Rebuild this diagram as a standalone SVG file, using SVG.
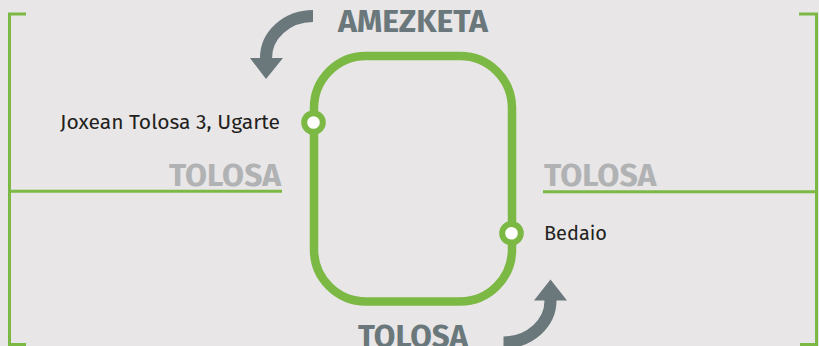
<svg xmlns="http://www.w3.org/2000/svg" width="819" height="346" viewBox="0 0 819 346">
<defs>
<style>
.bg{fill:#e8e6e7}
.br{fill:none;stroke:#7cb844;stroke-width:3}
.loop{fill:none;stroke:#7cb844;stroke-width:8.5}
.st{fill:#ffffff;stroke:#7cb844;stroke-width:6}
.arr{fill:none;stroke:#6a777b;stroke-width:12}
.head{fill:#6a777b}
.big{font-family:"Fira Sans","Open Sans","Noto Sans",sans-serif;font-weight:bold;font-size:30px}
.dark{fill:#6a777b}
.light{fill:#b1b2b4}
.lbl{font-family:"Fira Sans","Open Sans","Noto Sans",sans-serif;font-size:20px;fill:#231f20}
</style>
</defs>
<rect class="bg" x="0" y="0" width="819" height="346"/>
<g id="brackets">
<path class="br" d="M26,14 H9.5 V344.5 H26"/>
<path class="br" d="M9.5,191.3 H282"/>
<path class="br" d="M799,14 H816.5 V344.5 H800"/>
<path class="br" d="M543,191.7 H816.5"/>
</g>
<g id="loop">
<rect class="loop" x="314" y="56" width="198" height="245.5" rx="52" ry="52"/>
</g>
<g id="connectors">
<path class="arr" d="M313,16 A47 42 0 0 0 266 58.5"/>
<polygon class="head" points="250,58 283,58 266,79"/>
<path class="arr" d="M503.5,342.5 A47 42 0 0 0 550.5 300"/>
<polygon class="head" points="534,300.5 567,300.5 550.5,279.5"/>
</g>
<g id="station-joxean">
<circle class="st" cx="313.5" cy="122.5" r="9.3"/>
<text class="lbl" x="280" y="128.5" text-anchor="end" textLength="220" lengthAdjust="spacingAndGlyphs">Joxean Tolosa 3, Ugarte</text>
</g>
<g id="station-bedaio">
<circle class="st" cx="511.5" cy="233.3" r="9.3"/>
<text class="lbl" x="544" y="239.5" textLength="63" lengthAdjust="spacingAndGlyphs">Bedaio</text>
</g>
<g id="label-amezketa">
<text class="big dark" x="338" y="32.3" textLength="150" lengthAdjust="spacingAndGlyphs">AMEZKETA</text>
</g>
<g id="label-tolosa-left">
<text class="big light" x="169" y="185.8" textLength="112" lengthAdjust="spacingAndGlyphs">TOLOSA</text>
</g>
<g id="label-tolosa-right">
<text class="big light" x="544" y="185.8" textLength="112.5" lengthAdjust="spacingAndGlyphs">TOLOSA</text>
</g>
<g id="label-tolosa-bottom">
<text class="big dark" x="358" y="346.8" textLength="110" lengthAdjust="spacingAndGlyphs">TOLOSA</text>
</g>
</svg>
